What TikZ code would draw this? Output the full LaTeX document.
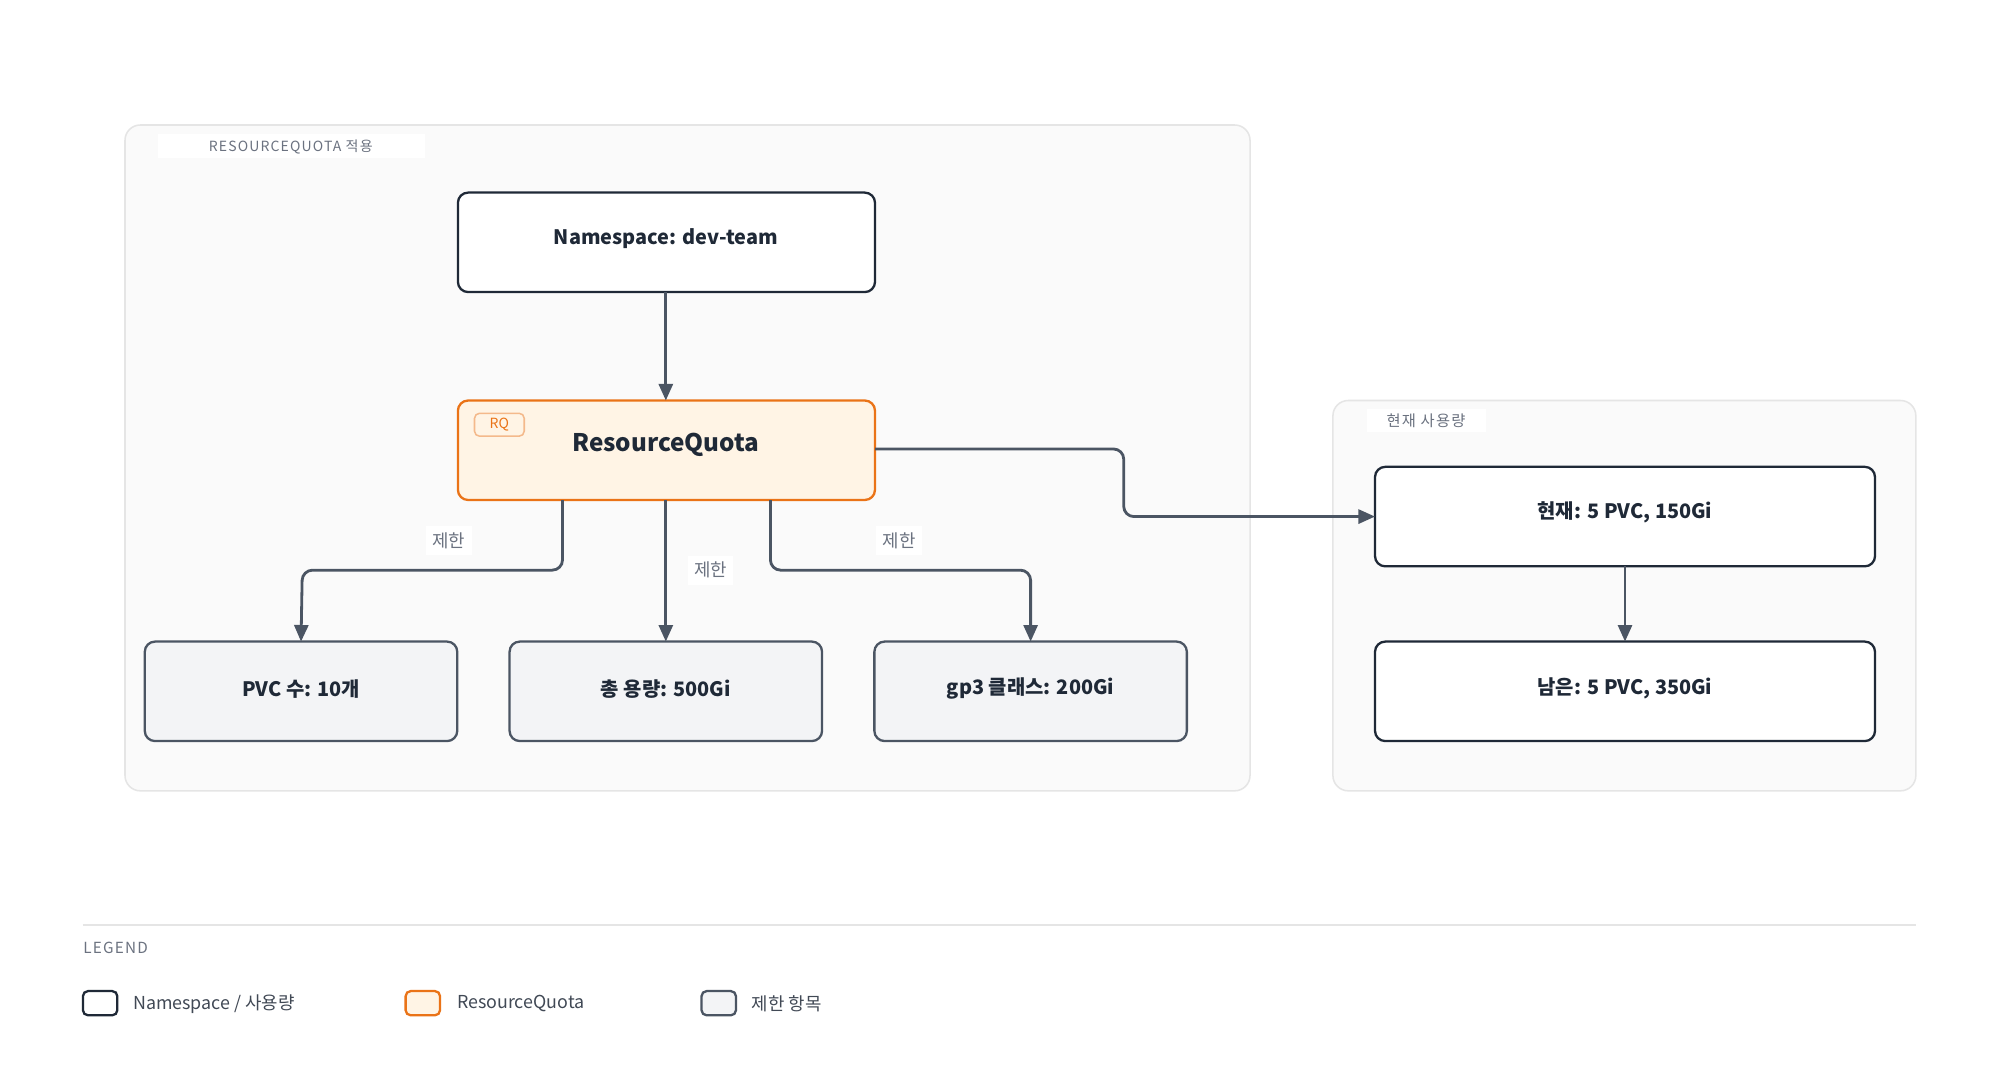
\documentclass[tikz,border=0pt]{standalone}
\usepackage{fontspec}
\setmainfont{Noto Sans CJK KR}
\newfontfamily\monok{Noto Sans CJK KR}[LetterSpace=8]
\usetikzlibrary{arrows.meta}
\definecolor{ink}{HTML}{1F2937}
\definecolor{edge}{HTML}{4B5563}
\definecolor{frm}{HTML}{E5E5E5}
\definecolor{frmbg}{HTML}{FAFAFA}
\definecolor{org}{HTML}{EA7317}
\definecolor{orgbg}{HTML}{FFF4E5}
\definecolor{lim}{HTML}{F3F4F6}
\definecolor{gry}{HTML}{6B7280}
\begin{document}
\begin{tikzpicture}[x=0.5pt,y=-0.5pt,
 frame/.style={draw=frm,fill=frmbg,rounded corners=6pt,line width=0.6pt},
 box/.style={draw=ink,fill=white,rounded corners=4pt,line width=0.9pt},
 lbl/.style={font=\bfseries\fontsize{7.8}{10}\selectfont,text=ink},
 arr/.style={draw=edge,line width=1.1pt,-{Triangle[length=6.5pt,width=5.5pt]},rounded corners=4pt},
 el/.style={fill=white,text=gry,font=\fontsize{7}{8}\selectfont,inner sep=2.5pt}]
\useasboundingbox (0,0) rectangle (1568,850);
\fill[white] (0,0) rectangle (1568,850);
% frames
\draw[frame] (98,98) rectangle (980,620);
\fill[white] (124,105) rectangle (333,124);
\node[text=gry,font=\monok\fontsize{5.5}{7}\selectfont] (t1) at (228,115) {RESOURCEQUOTA 적용};
\draw[frame] (1045,314) rectangle (1502,620);
\fill[white] (1072,321) rectangle (1165,339);
\node[text=gry,font=\monok\fontsize{6}{7}\selectfont] (t2) at (1118,330) {현재 사용량};
% nodes
\draw[box] (359,151) rectangle (686,229);
\node[lbl] (ns) at (522,187) {Namespace: dev-team};
\coordinate (nsb) at (522,229);
\draw[box,draw=org,fill=orgbg] (359,314) rectangle (686,392);
\node[font=\bfseries\fontsize{9.5}{12}\selectfont,text=ink] (rq) at (522,349) {ResourceQuota};
\draw[draw=org!50,fill=orgbg,rounded corners=2pt,line width=0.6pt] (372,324) rectangle (411,342);
\node[text=org,font=\fontsize{5.5}{6}\selectfont] (badge) at (391.5,333) {RQ};
\coordinate (rqt) at (522,314);
\foreach \n/\cx/\t in {p/236/PVC 수: 10개, s/522/총 용량: 500Gi, g/808/gp3 클래스: 200Gi}{
  \draw[box,fill=lim,draw=edge] (\cx-122.5,503) rectangle (\cx+122.5,581);
  \node[lbl] (\n) at (\cx,540) {\t};
  \coordinate (\n t) at (\cx,503);
}
\draw[box] (1078,366) rectangle (1470,444);
\node[lbl] (cur) at (1274,402) {현재: 5 PVC, 150Gi};
\draw[box] (1078,503) rectangle (1470,581);
\node[lbl] (rem) at (1274,540) {남은: 5 PVC, 350Gi};
% edges
\draw[arr] (nsb) -- (rqt);
\draw[arr] (441,392) -- (441,447) -- (237,447) -- (pt);
\draw[arr] (522,392) -- (st);
\draw[arr] (604,392) -- (604,447) -- (808,447) -- (gt);
\draw[arr] (686,352) -- (881,352) -- (881,405) -- (1078,405);
\draw[arr] (1274,444) -- (1274,503);
\node[el] (l1) at (352,424) {제한};
\node[el] (l2) at (557,447) {제한};
\node[el] (l3) at (705,424) {제한};
% legend
\draw[frm,line width=0.6pt] (65,725) -- (1502,725);
\node[anchor=west,text=gry,font=\monok\fontsize{6}{7}\selectfont,inner sep=0] (lg) at (65,743) {LEGEND};
\draw[draw=ink,fill=white,rounded corners=2pt,line width=0.9pt] (65,777) rectangle (92,796);
\node[anchor=west,text=ink!85,font=\fontsize{7}{8}\selectfont,inner sep=0] (lg1) at (104,787) {Namespace / 사용량};
\draw[draw=org,fill=orgbg,rounded corners=2pt,line width=0.9pt] (318,777) rectangle (345,796);
\node[anchor=west,text=ink!85,font=\fontsize{7}{8}\selectfont,inner sep=0] (lg2) at (358,787) {ResourceQuota};
\draw[draw=edge,fill=lim,rounded corners=2pt,line width=0.9pt] (550,777) rectangle (577,796);
\node[anchor=west,text=ink!85,font=\fontsize{7}{8}\selectfont,inner sep=0] (lg3) at (589,787) {제한 항목};
\end{tikzpicture}
\end{document}
